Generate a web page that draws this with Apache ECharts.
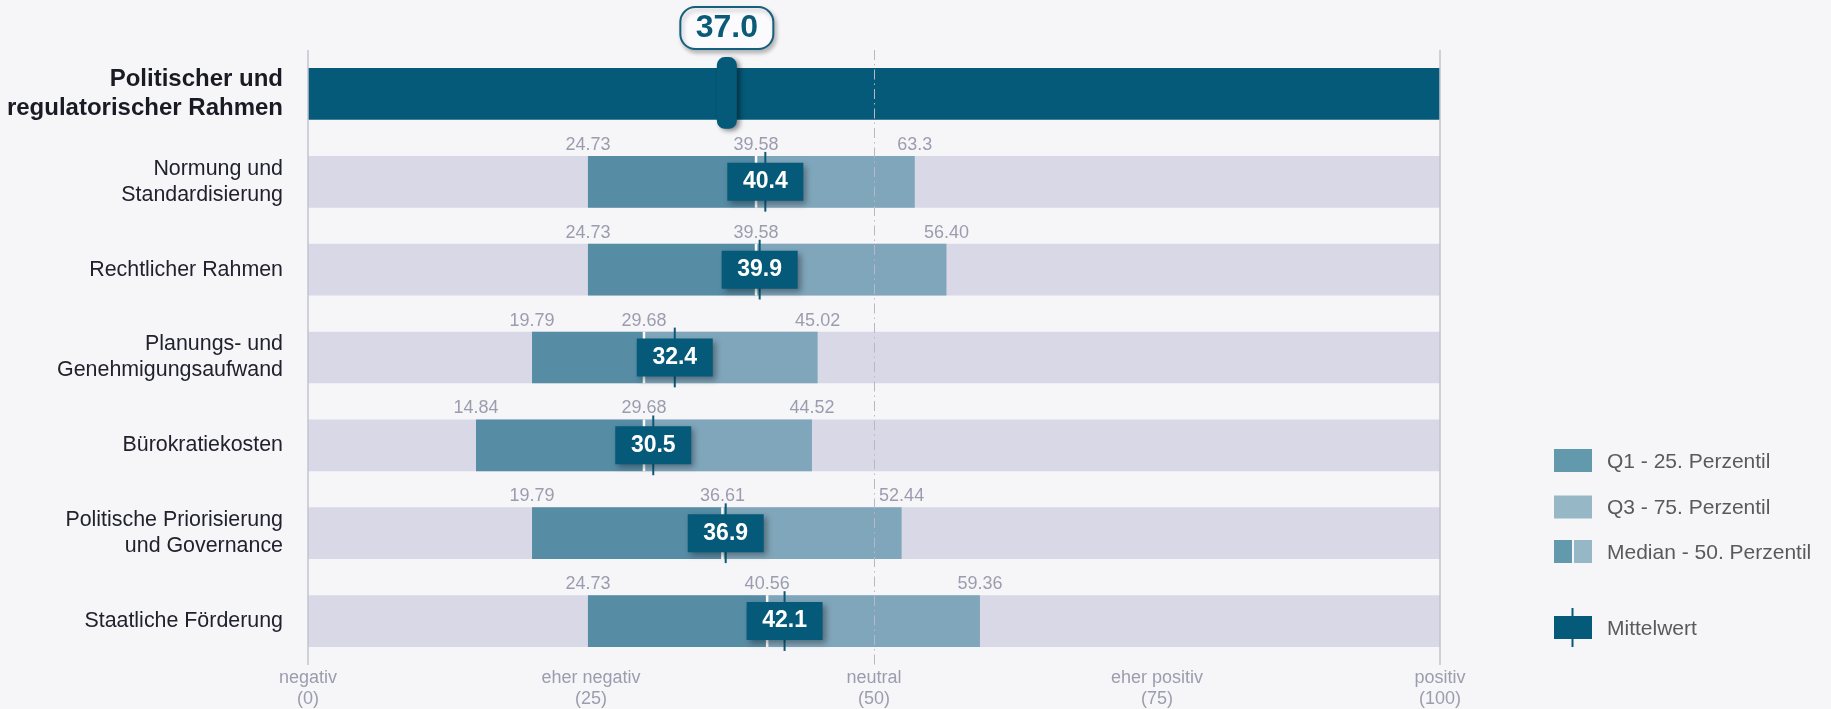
<!DOCTYPE html>
<html>
<head>
<meta charset="utf-8">
<script src="https://cdn.jsdelivr.net/npm/echarts@6/dist/echarts.min.js"></script>
<style>
  html, body { margin: 0; padding: 0; background: #f6f6f9; }
  #chart { width: 1831px; height: 709px; }
</style>
</head>
<body>
<div id="chart"></div>
<script>
// ---------- data ----------
const categories = [
  'Politischer und\nregulatorischer Rahmen',
  'Normung und\nStandardisierung',
  'Rechtlicher Rahmen',
  'Planungs- und\nGenehmigungsaufwand',
  'Bürokratiekosten',
  'Politische Priorisierung\nund Governance',
  'Staatliche Förderung'
];
const overallMean = 37.0;
const q1Values     = [24.73, 24.73, 19.79, 14.84, 19.79, 24.73];
const medianValues = [39.58, 39.58, 29.68, 29.68, 36.61, 40.56];
const q3Values     = [53.6, 56.40, 45.02, 44.52, 52.44, 59.36];
const q3LabelText  = ['63.3', '56.40', '45.02', '44.52', '52.44', '59.36'];
const meanValues   = [40.4, 39.9, 32.4, 30.5, 36.9, 42.1];
const axisTickLabels = ['negativ\n(0)', 'eher negativ\n(25)', 'neutral\n(50)', 'eher positiv\n(75)', 'positiv\n(100)'];
const legendLabels = ['Q1 - 25. Perzentil', 'Q3 - 75. Perzentil', 'Median - 50. Perzentil', 'Mittelwert'];

// ---------- styles ----------
const FONT = '"Liberation Sans", Arial, Helvetica, sans-serif';
const DARK = '#045a78';
const Q1C = '#578ca5';
const Q3C = '#80a6bb';
const BGBAR = '#d9d8e6';
const LABELGREY = '#9c9caf';

const rows = q1Values.map((q, i) => [i + 1, q, medianValues[i], q3Values[i], meanValues[i]]);

function renderOverall(params, api) {
  const ci = api.value(0);
  const X = v => api.coord([v, ci])[0];
  const yc = api.coord([0, ci])[1];
  const band = api.size([0, 1])[1];
  const h = band * 0.589;
  const top = yc - h / 2;
  const x0 = X(0), x100 = X(100), xm = X(api.value(1));
  return {
    type: 'group',
    children: [
      { type: 'rect', shape: { x: x0, y: top, width: x100 - x0, height: h }, style: { fill: DARK } },
      { type: 'rect', shape: { x: xm - 10, y: top - 11, width: 20, height: h + 20, r: 8 },
        style: { fill: DARK, shadowBlur: 5, shadowOffsetX: 3, shadowOffsetY: 2, shadowColor: 'rgba(0,0,0,0.45)' } },
      { type: 'rect', shape: { x: xm - 46.5, y: top - 61, width: 93, height: 42, r: 15 },
        style: { fill: '#fbfbfd', stroke: '#15607c', lineWidth: 2, shadowBlur: 4, shadowOffsetX: 2, shadowOffsetY: 3, shadowColor: 'rgba(0,0,0,0.25)' } },
      { type: 'text', style: { text: api.value(1).toFixed(1), x: xm, y: top - 40, align: 'center', verticalAlign: 'middle',
        fill: '#0b5a78', fontSize: 32, fontWeight: 'bold', fontFamily: FONT } }
    ]
  };
}

function renderQuartiles(params, api) {
  const ci = api.value(0);
  const X = v => api.coord([v, ci])[0];
  const yc = api.coord([0, ci])[1];
  const band = api.size([0, 1])[1];
  const h = band * 0.589;
  const top = yc - h / 2;
  const x0 = X(0), x100 = X(100);
  const xq1 = X(api.value(1)), xmed = X(api.value(2)), xq3 = X(api.value(3)), xm = X(api.value(4));
  const i = params.dataIndex;
  const lbl = (txt, x) => ({ type: 'text', style: { text: txt, x: x, y: top - 11, align: 'center', verticalAlign: 'middle',
    fill: LABELGREY, fontSize: 18, fontFamily: FONT } });
  return {
    type: 'group',
    children: [
      { type: 'rect', shape: { x: x0, y: top, width: x100 - x0, height: h }, style: { fill: BGBAR } },
      { type: 'rect', shape: { x: xq1, y: top, width: xmed - xq1, height: h }, style: { fill: Q1C } },
      { type: 'rect', shape: { x: xmed, y: top, width: xq3 - xmed, height: h }, style: { fill: Q3C } },
      { type: 'line', shape: { x1: xmed, y1: top, x2: xmed, y2: top + h }, style: { stroke: '#ffffff', lineWidth: 2.5 } },
      lbl(api.value(1).toFixed(2), xq1),
      lbl(api.value(2).toFixed(2), xmed),
      lbl(q3LabelText[i], xq3),
      { type: 'line', shape: { x1: xm, y1: top - 4, x2: xm, y2: top + h + 4 }, style: { stroke: '#0b5a78', lineWidth: 2 } },
      { type: 'rect', shape: { x: xm - 38, y: yc - 19, width: 76, height: 38 },
        style: { fill: DARK, shadowBlur: 6, shadowOffsetX: 3, shadowOffsetY: 3, shadowColor: 'rgba(0,0,0,0.35)' } },
      { type: 'text', style: { text: api.value(4).toFixed(1), x: xm, y: yc, align: 'center', verticalAlign: 'middle',
        fill: '#ffffff', fontSize: 23, fontWeight: 'bold', fontFamily: FONT } }
    ]
  };
}

const legendX = 1554, legendTextX = 1607;
const legendYs = [449, 495.5, 540, 616];
const legendText = (t, y) => ({ type: 'text', x: legendTextX, y: y + 13,
  style: { text: t, fill: '#5a5a5a', fontSize: 21, fontFamily: FONT, verticalAlign: 'middle', align: 'left' } });

const graphic = [
  { type: 'rect', shape: { x: legendX, y: legendYs[0], width: 38, height: 23 }, style: { fill: '#6399ad' } },
  legendText(legendLabels[0], legendYs[0]),
  { type: 'rect', shape: { x: legendX, y: legendYs[1], width: 38, height: 23 }, style: { fill: '#96b8c6' } },
  legendText(legendLabels[1], legendYs[1]),
  { type: 'rect', shape: { x: legendX, y: legendYs[2], width: 18, height: 23 }, style: { fill: '#6399ad' } },
  { type: 'rect', shape: { x: legendX + 20, y: legendYs[2], width: 18, height: 23 }, style: { fill: '#96b8c6' } },
  legendText(legendLabels[2], legendYs[2]),
  { type: 'rect', shape: { x: legendX, y: legendYs[3], width: 38, height: 23 }, style: { fill: DARK } },
  { type: 'line', shape: { x1: legendX + 18.5, y1: legendYs[3] - 8, x2: legendX + 18.5, y2: legendYs[3] + 31 }, style: { stroke: DARK, lineWidth: 2 } },
  legendText(legendLabels[3], legendYs[3])
];

const chart = echarts.init(document.getElementById('chart'), null, { renderer: 'canvas' });
chart.setOption({
  backgroundColor: '#f6f6f9',
  animation: false,
  textStyle: { fontFamily: FONT },
  grid: { left: 308, right: 391, top: 50, bottom: 44, containLabel: false, outerBoundsMode: 'none' },
  xAxis: {
    type: 'value', min: 0, max: 100, interval: 25,
    axisLine: { show: false }, axisTick: { show: false }, splitLine: { show: false },
    axisLabel: {
      formatter: v => axisTickLabels[Math.round(v / 25)],
      color: LABELGREY, fontSize: 18, lineHeight: 21, margin: 3, fontFamily: FONT
    }
  },
  yAxis: {
    type: 'category', inverse: true,
    data: categories.map((c, i) => i === 0
      ? { value: c, textStyle: { fontWeight: 'bold', fontSize: 24, lineHeight: 29, color: '#1a1a24' } }
      : c),
    axisLine: { show: false }, axisTick: { show: false }, splitLine: { show: false },
    axisLabel: { color: '#22222e', fontSize: 21.4, lineHeight: 26, margin: 25, fontFamily: FONT, align: 'right' }
  },
  series: [
    {
      type: 'line', data: [], silent: true, z: 1, showSymbol: false,
      markLine: {
        symbol: 'none', silent: true, label: { show: false }, animation: false,
        data: [
          { xAxis: 0, lineStyle: { color: '#c3c2cf', width: 1.5, type: 'solid' } },
          { xAxis: 100, lineStyle: { color: '#c3c2cf', width: 1.5, type: 'solid' } },
          { xAxis: 50, lineStyle: { color: '#b8b8c5', width: 1, type: [10, 4, 1.5, 4] } }
        ]
      }
    },
    { type: 'custom', name: 'overall', renderItem: renderOverall, data: [[0, overallMean]], encode: { x: 1, y: 0 }, z: 3 },
    { type: 'custom', name: 'quartiles', renderItem: renderQuartiles, data: rows, encode: { x: [1, 2, 3, 4], y: 0 }, z: 3 }
  ],
  graphic: graphic
});
</script>
</body>
</html>
